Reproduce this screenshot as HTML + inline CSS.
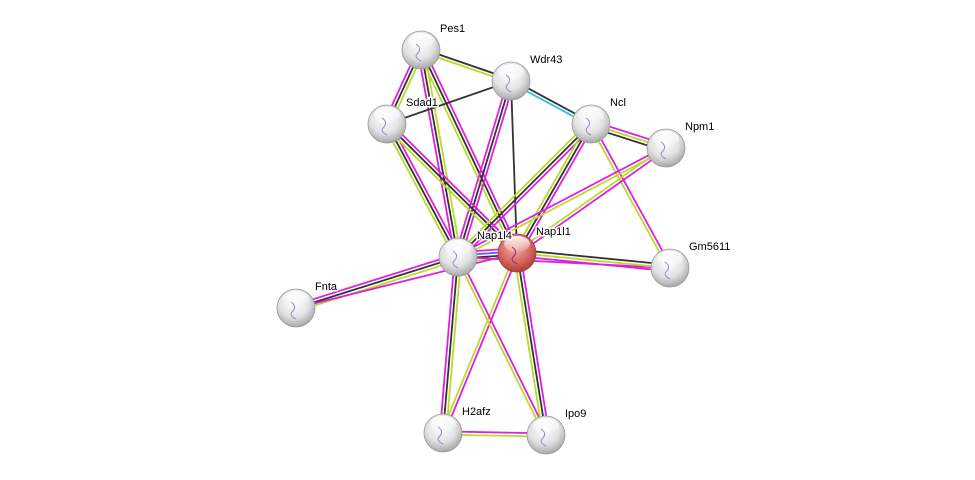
<!DOCTYPE html>
<html><head><meta charset="utf-8"><style>
html,body{margin:0;padding:0;background:#fff;width:975px;height:480px;overflow:hidden}
svg text{font-family:"Liberation Sans",sans-serif;font-size:11px;fill:#000;stroke:#fff;stroke-width:3px;paint-order:stroke;stroke-linejoin:round}
</style></head><body>
<svg id="s" width="975" height="480" xmlns="http://www.w3.org/2000/svg">
<defs>
<radialGradient id="g" cx="45%" cy="35%" r="65%">
<stop offset="0" stop-color="#ffffff"/><stop offset="0.6" stop-color="#e2e2e2"/><stop offset="1" stop-color="#a8a8a8"/></radialGradient>
<radialGradient id="r" cx="45%" cy="35%" r="65%">
<stop offset="0" stop-color="#f4b0a8"/><stop offset="0.6" stop-color="#d96a62"/><stop offset="1" stop-color="#a8403a"/></radialGradient>
<linearGradient id="hl" x1="0" y1="0" x2="0" y2="1"><stop offset="0" stop-color="#fff" stop-opacity="0.95"/><stop offset="1" stop-color="#fff" stop-opacity="0.1"/></linearGradient>
</defs>
<g id="edges"></g>
<g id="nodes"></g>
<g id="labels"></g>
</svg>
<script>
var N={Pes1:[421,50],Wdr43:[511,81],Sdad1:[387,124],Ncl:[591,124],Npm1:[666,148],Nap1l4:[458,257],Nap1l1:[517,253],Gm5611:[670,268],Fnta:[296,308],H2afz:[443,433],Ipo9:[546,435]};
var M="#e01ee0",K="#333",Y="#b8dc28",C="#30c0e0",B="#6060ff";
var E=[["Pes1","Wdr43",[K,Y]],["Pes1","Sdad1",[Y,K,M]],["Pes1","Nap1l4",[Y,K,M]],["Pes1","Nap1l1",[M,K,Y]],
["Sdad1","Wdr43",[K]],["Wdr43","Ncl",[K,C]],["Wdr43","Nap1l4",[M,K,M]],["Wdr43","Nap1l1",[K]],
["Sdad1","Nap1l4",[M,K,Y]],["Sdad1","Nap1l1",[M,K,Y]],["Ncl","Npm1",[M,Y,K]],["Ncl","Nap1l4",[M,K,Y]],
["Ncl","Nap1l1",[M,K,Y]],["Ncl","Gm5611",[M,Y]],["Npm1","Nap1l4",[Y,M]],["Npm1","Nap1l1",[M,Y]],
["Nap1l4","Nap1l1",[M,B,K,Y]],["Nap1l4","Gm5611",[M]],["Nap1l1","Gm5611",[K,Y,M]],["Nap1l4","Fnta",[Y,K,M]],
["Nap1l1","Fnta",[M]],["Nap1l4","H2afz",[Y,K,M]],["Nap1l1","H2afz",[M,Y]],["Nap1l4","Ipo9",[M,Y]],
["Nap1l1","Ipo9",[M,K,Y]],["H2afz","Ipo9",[M,Y]]];
var ns="http://www.w3.org/2000/svg",eg=document.getElementById("edges"),ng=document.getElementById("nodes"),lg=document.getElementById("labels");
E.forEach(function(e){var a=N[e[0]],b=N[e[1]],dx=b[0]-a[0],dy=b[1]-a[1],L=Math.hypot(dx,dy),px=-dy/L,py=dx/L,n=e[2].length;
e[2].forEach(function(c,i){var o=(i-(n-1)/2)*3.2;var l=document.createElementNS(ns,"line");
l.setAttribute("x1",a[0]+px*o);l.setAttribute("y1",a[1]+py*o);l.setAttribute("x2",b[0]+px*o);l.setAttribute("y2",b[1]+py*o);
l.setAttribute("stroke",c);l.setAttribute("stroke-width","1.8");eg.appendChild(l);});});
for(var k in N){var p=N[k];
var c=document.createElementNS(ns,"circle");c.setAttribute("cx",p[0]);c.setAttribute("cy",p[1]);c.setAttribute("r",19);
c.setAttribute("fill",k=="Nap1l1"?"url(#r)":"url(#g)");c.setAttribute("stroke",k=="Nap1l1"?"#a04040":"#999");c.setAttribute("stroke-width","0.8");ng.appendChild(c);
var h=document.createElementNS(ns,"ellipse");h.setAttribute("cx",p[0]);h.setAttribute("cy",p[1]-9);h.setAttribute("rx",13);h.setAttribute("ry",8);h.setAttribute("fill","url(#hl)");ng.appendChild(h);
var s=document.createElementNS(ns,"path");s.setAttribute("d","M"+(p[0]-5)+" "+(p[1]-6)+" q6 4 2 9 q-5 4 3 8");s.setAttribute("stroke",k=="Nap1l1"?"#803070":"#a080d0");s.setAttribute("fill","none");s.setAttribute("stroke-width","1");ng.appendChild(s);
var t=document.createElementNS(ns,"text");t.setAttribute("x",p[0]+19);t.setAttribute("y",p[1]-18);t.textContent=k;lg.appendChild(t);}
</script>
</body></html>
